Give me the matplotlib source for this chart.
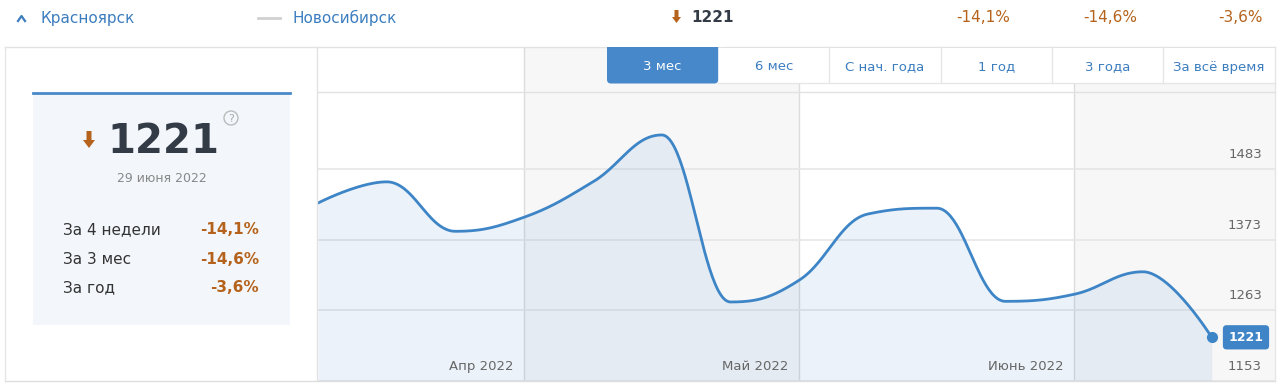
import numpy as np
import matplotlib
matplotlib.use("Agg")
import matplotlib.pyplot as plt
from matplotlib.patches import Rectangle, FancyBboxPatch, Circle, Polygon
from matplotlib.lines import Line2D
from matplotlib.transforms import Affine2D

# ---------------- data ----------------
weeks = list(range(14))
values = [1430, 1463, 1386, 1408, 1463, 1536, 1276, 1310, 1413, 1422, 1277, 1288, 1323, 1221]
month_labels = ['Апр 2022', 'Май 2022', 'Июнь 2022']
month_starts = [3, 7, 11]
y_ticks = [1153, 1263, 1373, 1483]
tabs = ['3 мес', '6 мес', 'С нач. года', '1 год', '3 года', 'За всё время']
city = 'Красноярск'
compare_city = 'Новосибирск'
current_value = 1221
current_date = '29 июня 2022'
change_labels = ['За 4 недели', 'За 3 мес', 'За год']
change_values = ['-14,1%', '-14,6%', '-3,6%']

# ---------------- style ----------------
BLUE = '#3d85c6'
LINKBLUE = '#3b7dbf'
ORANGE = '#b5631c'
DARK = '#333c46'
GRID = '#e6e6e6'
BAND = '#f7f7f7'

W, H = 1280, 385
fig = plt.figure(figsize=(12.8, 3.85), dpi=100)
fig.patch.set_facecolor('white')
tpx = Affine2D().scale(1 / W, -1 / H).translate(0, 1) + fig.transFigure


def spline(xv, yv, smoothing=1.5):
    n = len(xv)
    lc = [None] * n
    rc = [None] * n
    den = smoothing + 1
    for i in range(n):
        px, py = xv[i], yv[i]
        if 0 < i < n - 1:
            lx, ly = xv[i - 1], yv[i - 1]
            nx, ny = xv[i + 1], yv[i + 1]
            lcx = (smoothing * px + lx) / den
            lcy = (smoothing * py + ly) / den
            rcx = (smoothing * px + nx) / den
            rcy = (smoothing * py + ny) / den
            corr = 0.0
            if rcx != lcx:
                corr = ((rcy - lcy) * (rcx - px)) / (rcx - lcx) + py - rcy
            lcy += corr
            rcy += corr
            if lcy > ly and lcy > py:
                lcy = max(ly, py); rcy = 2 * py - lcy
            elif lcy < ly and lcy < py:
                lcy = min(ly, py); rcy = 2 * py - lcy
            if rcy > ny and rcy > py:
                rcy = max(ny, py); lcy = 2 * py - rcy
            elif rcy < ny and rcy < py:
                rcy = min(ny, py); lcy = 2 * py - rcy
            lc[i] = (lcx, lcy)
            rc[i] = (rcx, rcy)
        else:
            lc[i] = (px, py)
            rc[i] = (px, py)
    t = np.linspace(0, 1, 50)[:, None]
    pts = []
    for i in range(n - 1):
        p0 = np.array([xv[i], yv[i]], float)
        p1 = np.array(rc[i], float)
        p2 = np.array(lc[i + 1], float)
        p3 = np.array([xv[i + 1], yv[i + 1]], float)
        seg = ((1 - t) ** 3) * p0 + 3 * ((1 - t) ** 2) * t * p1 + 3 * (1 - t) * t ** 2 * p2 + t ** 3 * p3
        pts.append(seg if i == 0 else seg[1:])
    pts = np.vstack(pts)
    return pts[:, 0], pts[:, 1]


# ---------------- chart axes ----------------
left_px, right_px, top_px, bot_px = 318, 1275, 47, 381
px_per_week = 68.75
val_per_px = 110 / 70.67
xmax = (right_px - left_px) / px_per_week
ymin = y_ticks[0]
ymax = ymin + (bot_px - top_px) * val_per_px

ax = fig.add_axes([left_px / W, 1 - bot_px / H, (right_px - left_px) / W, (bot_px - top_px) / H])
ax.set_xlim(0, xmax)
ax.set_ylim(ymin, ymax)
ax.set_axis_off()

# month bands
ax.axvspan(month_starts[0], month_starts[1], color=BAND, zorder=0, lw=0)
ax.axvspan(month_starts[2], xmax, color=BAND, zorder=0, lw=0)
for ms in month_starts:
    ax.axvline(ms, color='#dcdcdc', lw=1, zorder=1)
for t in y_ticks:
    ax.axhline(t, color=GRID, lw=1.2, zorder=1)

xs, ys = spline(weeks, values)
ax.fill_between(xs, ys, ymin, color=BLUE, alpha=0.1, lw=0, zorder=2)
ax.plot(xs, ys, color=BLUE, lw=2, zorder=3, solid_capstyle='round')
ax.plot(weeks[-1], values[-1], 'o', color=BLUE, ms=7, zorder=4)

for t in y_ticks:
    ax.annotate(str(t), xy=(1, t), xycoords=('axes fraction', 'data'), xytext=(-13, 14.5),
                textcoords='offset pixels', ha='right', va='center', color='#666666', fontsize=9.5, zorder=5)
for lab, ms in zip(month_labels, month_starts):
    ax.annotate(lab, xy=(ms, ymin), xytext=(-11, 14), textcoords='offset pixels',
                ha='right', va='center', color='#666666', fontsize=9.5, zorder=5)
ax.annotate(str(values[-1]), xy=(1, values[-1]), xycoords=('axes fraction', 'data'), xytext=(-29, 0),
            textcoords='offset pixels', ha='center', va='center', color='white', fontsize=9,
            fontweight='bold', zorder=6,
            bbox=dict(boxstyle='round,pad=0.45,rounding_size=0.3', fc='#3f84c6', ec='none'))


# ---------------- decorations in pixel space ----------------
def line(xs_, ys_, color, lw=1.0, z=10):
    fig.add_artist(Line2D(xs_, ys_, color=color, lw=lw, transform=tpx, zorder=z))


def rect(x0, y0, x1, y1, fc, ec='none', lw=0, z=5):
    fig.add_artist(Rectangle((x0, y0), x1 - x0, y1 - y0, fc=fc, ec=ec, lw=lw, transform=tpx, zorder=z))


# panel borders
line([5, 1275], [47, 47], '#e2e2e2', z=7)
line([5, 1275], [381, 381], '#dedede')
line([5, 5], [47, 381], '#e6e6e6')
line([1275, 1275], [47, 381], '#e6e6e6')
line([317, 317], [47, 381], '#e2e2e2')
line([318, 1275], [92, 92], '#e2e2e2')

# tabs
tab_x0, tab_w = 607, 111.2
rect(tab_x0 + tab_w, 47.5, 1275, 83, 'white', z=8)
line([tab_x0 + tab_w, 1275], [83, 83], '#e6e6e6', z=9)
for i, name in enumerate(tabs):
    x0 = tab_x0 + i * tab_w
    if i == 0:
        fig.add_artist(FancyBboxPatch((x0, 44), tab_w, 39.5, boxstyle='round,pad=0,rounding_size=4',
                                      fc='#4688c9', ec='none', transform=tpx, zorder=12))
        col = 'white'
    else:
        col = LINKBLUE
        if i < len(tabs) - 1:
            line([x0 + tab_w, x0 + tab_w], [47, 83], '#e6e6e6', z=9)
    fig.text(x0 + tab_w / 2, 67, name, transform=tpx, ha='center', va='center', color=col,
             fontsize=9.5, zorder=13)
rect(600, 40, 725, 47, 'white', z=12.5)

# header row
line([18, 21.5, 25], [21, 16, 21], LINKBLUE, lw=1.6)
fig.text(40, 18, city, transform=tpx, ha='left', va='center', color=LINKBLUE, fontsize=11)
line([258, 280], [18, 18], '#d0d0d0', lw=2)
fig.text(293, 18, compare_city, transform=tpx, ha='left', va='center', color=LINKBLUE, fontsize=11)


def down_arrow(cx, ytop, w_shaft, w_head, h_shaft, h_head):
    pts = [(cx - w_shaft / 2, ytop), (cx + w_shaft / 2, ytop), (cx + w_shaft / 2, ytop + h_shaft),
           (cx + w_head / 2, ytop + h_shaft), (cx, ytop + h_shaft + h_head),
           (cx - w_head / 2, ytop + h_shaft), (cx - w_shaft / 2, ytop + h_shaft)]
    fig.add_artist(Polygon(pts, closed=True, fc=ORANGE, ec='none', transform=tpx, zorder=10))


down_arrow(676.5, 10, 4, 9, 7, 6)
fig.text(691, 18, str(current_value), transform=tpx, ha='left', va='center', color=DARK,
         fontsize=11, fontweight='bold')
for xr, v in zip([1010, 1137, 1263], change_values):
    fig.text(xr, 18, v, transform=tpx, ha='right', va='center', color=ORANGE, fontsize=11)

# left card
rect(33, 93, 290, 325, '#f3f7fb', z=3)
line([33, 290], [93, 93], '#4a89c8', lw=2, z=4)
down_arrow(89, 131, 5, 12, 9, 8)
fig.text(107, 142, str(current_value), transform=tpx, ha='left', va='center', color=DARK,
         fontsize=29, fontweight='bold', zorder=6)
fig.add_artist(Circle((231, 118), 7, fc='none', ec='#bbbbbb', lw=1, transform=tpx, zorder=6))
fig.text(231, 118.5, '?', transform=tpx, ha='center', va='center', color='#aaaaaa', fontsize=8, zorder=7)
fig.text(162, 178, current_date, transform=tpx, ha='center', va='center', color='#888888',
         fontsize=9, zorder=6)
for yy, lab, v in zip([230, 259, 288], change_labels, change_values):
    fig.text(63, yy, lab, transform=tpx, ha='left', va='center', color='#333333', fontsize=11, zorder=6)
    fig.text(259, yy, v, transform=tpx, ha='right', va='center', color=ORANGE, fontsize=11,
             fontweight='bold', zorder=6)

fig.savefig('out.png', dpi=100, facecolor='white')
